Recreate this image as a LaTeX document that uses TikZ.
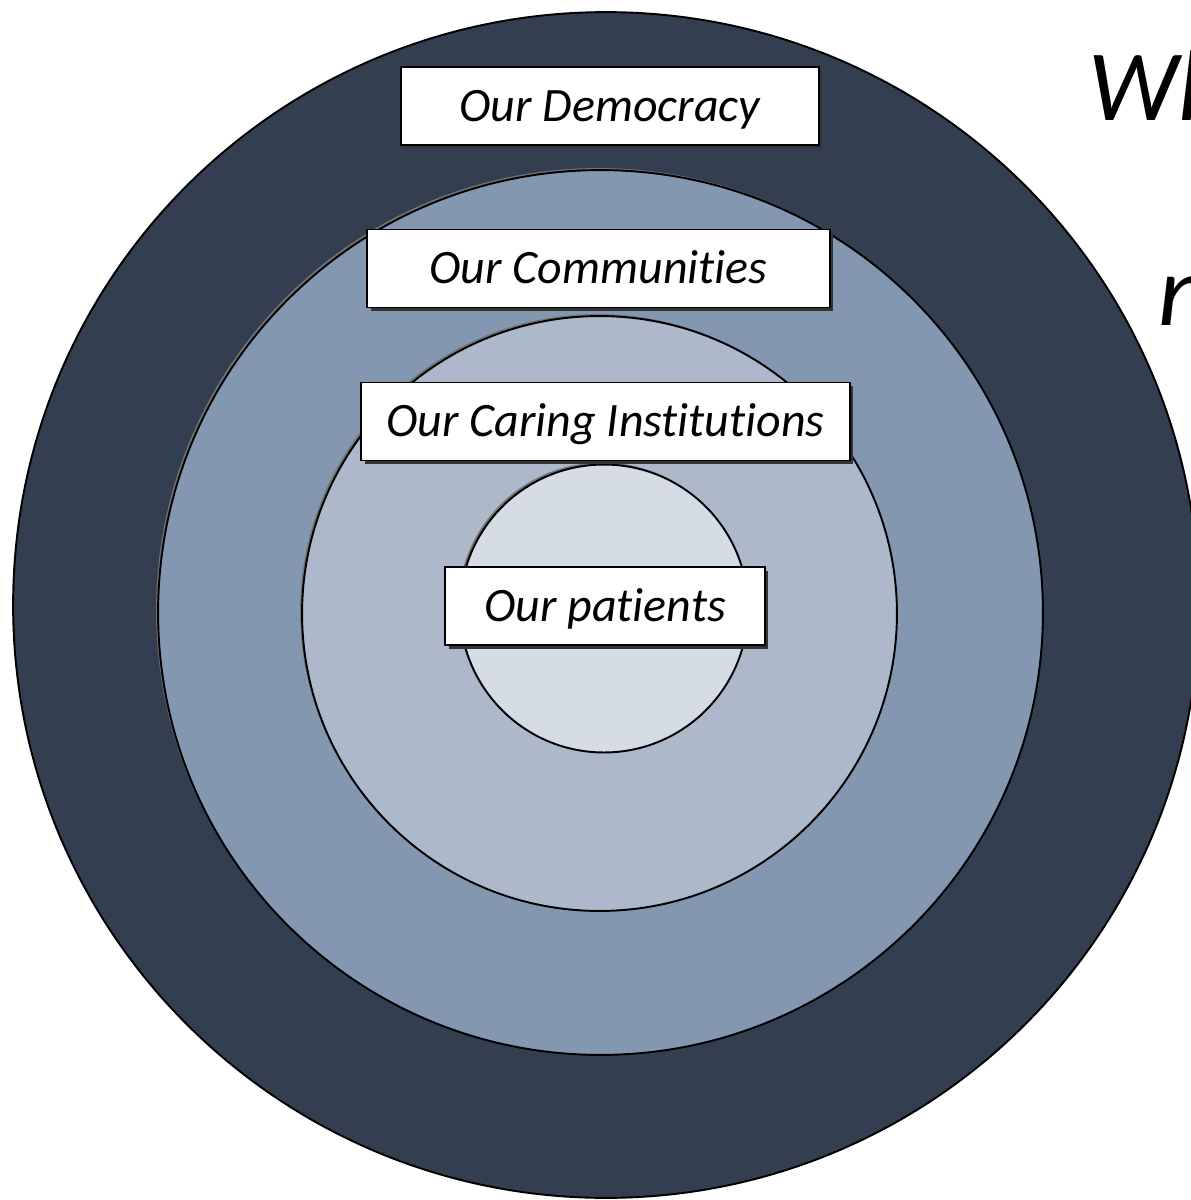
\documentclass[tikz,border=0pt]{standalone}
\usepackage{fontspec}
\setmainfont{Carlito}[Ligatures=NoCommon]
\usepackage{tikz}
\usetikzlibrary{positioning,shadows}
\definecolor{ringdemo}{HTML}{333F50}
\definecolor{ringcomm}{HTML}{8497B0}
\definecolor{ringcare}{HTML}{ADB9CA}
\definecolor{ringpat}{HTML}{D6DCE5}

\begin{document}
\begin{tikzpicture}[
    x=0.02cm, y=-0.02cm,
    every node/.style={font=\fontsize{27.3}{32}\selectfont\itshape},
    ring/.style={circle, draw, line width=1.1pt, inner sep=0pt},
    ringshade/.style={ring, drop shadow={shadow xshift=-0.04cm, shadow yshift=0.04cm, fill=black!55, opacity=1}},
    tagbox/.style={draw, fill=white, line width=0.9pt, minimum height=1.56cm, inner sep=0pt, text height=17.6pt, text depth=0pt,
        drop shadow={shadow xshift=0.07cm, shadow yshift=-0.07cm, fill=black!80, opacity=1}},
    bigtext/.style={font=\fontsize{57.5}{69}\selectfont\itshape, anchor=base west, inner sep=0pt}
]
\useasboundingbox[fill=white] (0,0) rectangle (1190,1200);

\node[ring, fill=ringdemo, minimum size=23.72cm] (demo) at (606,605) {};
\node[ringshade, fill=ringcomm, minimum size=17.7cm] (comm) at (600.5,612.5) {};
\node[ringshade, fill=ringcare, minimum size=11.9cm] (care) at (599.5,613.5) {};
\node[ringshade, fill=ringpat, minimum size=5.76cm] (pat) at (604,608.5) {};

\node[tagbox, minimum width=8.36cm] (demotag) at (610,106) {Our Democracy};
\node[tagbox, minimum width=9.26cm] (commtag) at (598.5,268.5) {Our Communities};
\node[tagbox, minimum width=9.78cm] (caretag) at (605.5,421.5) {Our Caring Institutions};
\node[tagbox, minimum width=6.4cm] (pattag) at (605,606) {Our patients};

\node[bigtext] (who) at (1088,120) {Wh};
\node[bigtext] (next) at (1158,325) {n};
\end{tikzpicture}
\end{document}
